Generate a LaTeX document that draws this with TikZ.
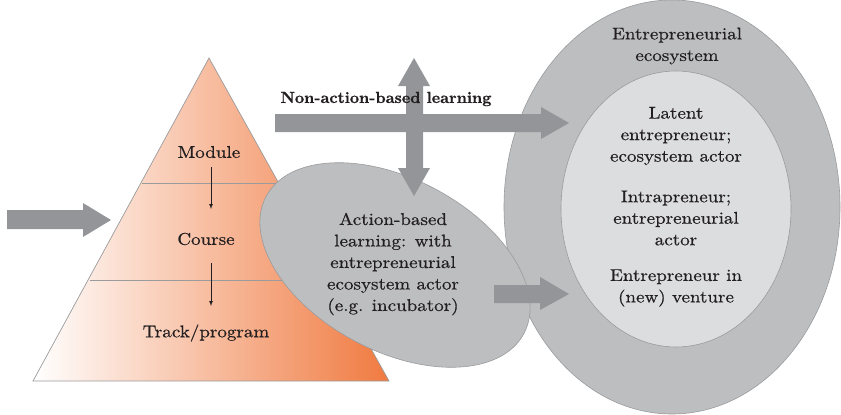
\documentclass[tikz,border=0pt]{standalone}
\usepackage{fontspec}
\setmainfont{lmroman10-regular.otf}[BoldFont=lmroman10-bold.otf, FakeStretch=1.12, FakeBold=0.6]
\newfontfamily\boldlbl{lmroman10-bold.otf}[FakeBold=0.8]
\usetikzlibrary{shapes.geometric}
\definecolor{arrgray}{HTML}{939598}
\definecolor{outerfill}{HTML}{BCBEC0}
\definecolor{innerfill}{HTML}{DCDDDE}
\definecolor{edgegray}{HTML}{9A9B9D}
\definecolor{pyrorange}{HTML}{F07A40}
\definecolor{txt}{HTML}{231F20}
\tikzset{
  lbl/.style={align=center, text=txt, font=\fontsize{17}{21.5}\selectfont, inner sep=0pt},
  blockarrow/.style={fill=arrgray, draw=none},
  smallarrow/.style={-latex, line width=0.7pt, draw=txt},
  blob/.style={draw=edgegray, line width=0.6pt}
}
\begin{document}
\begin{tikzpicture}[x=1pt,y=-1pt]
\useasboundingbox (0,0) rectangle (841,415);
% outer ellipse
\path[blob, fill=outerfill] (672,207) ellipse [x radius=168, y radius=207];
\path[blob, fill=innerfill] (676,209) ellipse [x radius=115, y radius=138];
% pyramid
\shade[left color=white, right color=pyrorange] (33,381) -- (209,58) -- (389,381) -- cycle;
\draw[edgegray, line width=0.7pt] (33,381) -- (209,58) -- (389,381) -- cycle;
\coordinate (l1a) at (142.1,183);
\coordinate (l1b) at (276.4,183);
\coordinate (l2a) at (89.6,280);
\coordinate (l2b) at (330.7,280);
\draw[edgegray, line width=0.9pt] (l1a) -- (l1b);
\draw[edgegray, line width=0.9pt] (l2a) -- (l2b);
% action ellipse
\path[blob, fill=outerfill, rotate around={-28:(395,265)}] (395,265) ellipse [x radius=146, y radius=86];
% left arrow
\path[blockarrow] (7,210) -- (83,210) -- (83,203) -- (111,220) -- (83,237) -- (83,229) -- (7,229) -- cycle;
% top horizontal arrow
\path[blockarrow] (275,114) -- (541,114) -- (541,107) -- (569,123) -- (541,139) -- (541,132) -- (275,132) -- cycle;
% vertical double arrow
\path[blockarrow] (414,58) -- (430,86) -- (423,86) -- (423,168) -- (430,168) -- (414,196) -- (398,168) -- (406,168) -- (406,86) -- (398,86) -- cycle;
% bottom arrow
\path[blockarrow] (494,285) -- (540,285) -- (540,277) -- (569,294) -- (540,310) -- (540,303) -- (494,303) -- cycle;
% texts
\node[lbl] (module) at (209,152) {Module};
\node[lbl] (course) at (206,239) {Course};
\node[lbl] (track) at (206,333) {Track/program};
\draw[smallarrow] (211,167) -- (211,209);
\draw[smallarrow] (211,263) -- (211,306);
\node[lbl, font=\fontsize{16}{20}\selectfont\boldlbl] (nonaction) at (386,99) {Non-action-based learning};
\node[lbl] (action) at (393,264) {Action-based\\learning: with\\entrepreneurial\\ecosystem actor\\(e.g. incubator)};
\node[lbl] (eco) at (677,46) {Entrepreneurial\\ecosystem};
\node[lbl] (latent) at (676,136) {Latent\\entrepreneur;\\ecosystem actor};
\node[lbl] (intra) at (676,218) {Intrapreneur;\\entrepreneurial\\actor};
\node[lbl] (entre) at (676,288) {Entrepreneur in\\(new) venture};
\end{tikzpicture}
\end{document}
